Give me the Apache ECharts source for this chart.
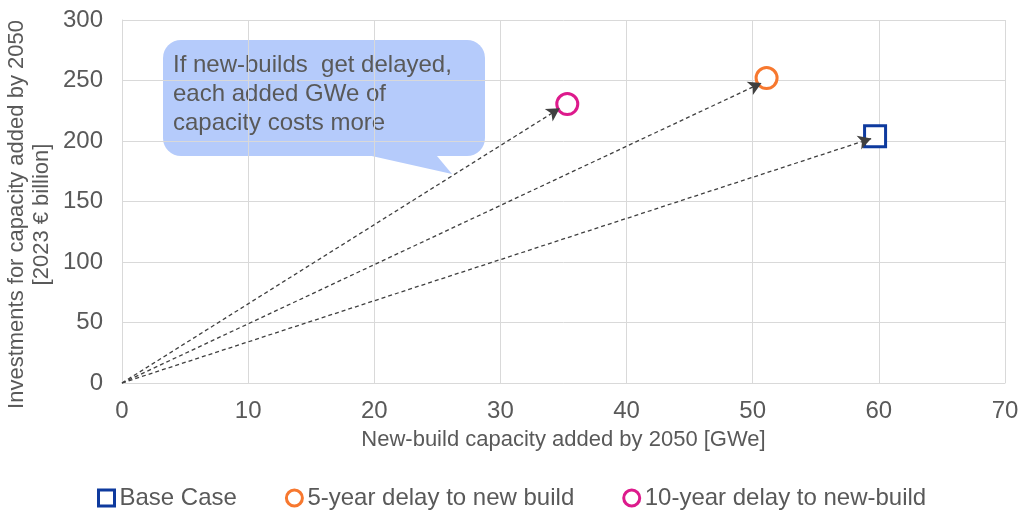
<!DOCTYPE html>
<html>
<head>
<meta charset="utf-8">
<script src="https://cdn.jsdelivr.net/npm/echarts@6/dist/echarts.min.js"></script>
<style>
  html, body { margin: 0; padding: 0; background: #fff; }
  #chart { width: 1024px; height: 511px; }
</style>
</head>
<body>
<div id="chart"></div>
<script>
// scenario data
var categories = ['Base Case', '5-year delay to new build', '10-year delay to new-build'];
var capacity = [59.7, 51.1, 35.3];      // GWe
var investment = [204, 252, 230.5];     // 2023 EUR billion
var arrowTipX = [59.4, 50.7, 34.7];
var arrowTipY = [202, 248, 227];
var symbols = ['rect', 'circle', 'circle'];
var colors = ['#0e3a9e', '#f7782f', '#dd1a8c'];
var xTicks = [0, 10, 20, 30, 40, 50, 60, 70];
var yTicks = [0, 50, 100, 150, 200, 250, 300];

var font = 'Liberation Sans, Arial, sans-serif';
var textColor = '#595959';
var gridColor = '#d9d9d9';

var series = categories.map(function (name, i) {
    return {
        name: name,
        type: 'scatter',
        symbol: symbols[i],
        symbolSize: 21,
        z: 3,
        itemStyle: { color: '#fff', borderColor: colors[i], borderWidth: 3, opacity: 1 },
        data: [[capacity[i], investment[i]]],
        markLine: {
            silent: true,
            symbol: ['none', 'arrow'],
            symbolSize: [11, 13],
            label: { show: false },
            lineStyle: { color: '#404040', type: [4, 3], width: 1.3, opacity: 1 },
            itemStyle: { color: '#000' },
            data: [[{ coord: [0, 0], symbol: 'none' }, { coord: [arrowTipX[i], arrowTipY[i]], itemStyle: { color: '#000' } }]]
        }
    };
});

var chart = echarts.init(document.getElementById('chart'));
chart.setOption({
    animation: false,
    textStyle: { fontFamily: font },
    grid: { left: 122, right: 19, top: 20, bottom: 128, outerBoundsMode: 'none', containLabel: false },
    xAxis: {
        type: 'value',
        min: xTicks[0], max: xTicks[xTicks.length - 1], interval: 10,
        name: 'New-build capacity added by 2050 [GWe]',
        nameLocation: 'middle', nameGap: 46, nameMoveOverlap: false,
        nameTextStyle: { color: textColor, fontSize: 22, fontFamily: font },
        axisLine: { show: true, lineStyle: { color: gridColor } },
        axisTick: { show: false },
        axisLabel: { color: textColor, fontSize: 24, margin: 16, fontFamily: font },
        splitLine: { show: true, lineStyle: { color: gridColor } }
    },
    yAxis: {
        type: 'value',
        min: yTicks[0], max: yTicks[yTicks.length - 1], interval: 50,
        name: 'Investments for capacity added by 2050\n[2023 € billion]',
        nameLocation: 'middle', nameGap: 68, nameMoveOverlap: false,
        nameTextStyle: { color: textColor, fontSize: 22, lineHeight: 25, fontFamily: font, padding: [0, 26, 0, 0] },
        axisLine: { show: true, lineStyle: { color: gridColor } },
        axisTick: { show: false },
        axisLabel: { color: textColor, fontSize: 24, margin: 19, fontFamily: font },
        splitLine: { show: true, lineStyle: { color: gridColor } }
    },
    legend: {
        left: 92, top: 481,
        itemWidth: 16, itemHeight: 16, itemGap: 48,
        itemStyle: { borderWidth: 3, opacity: 1 },
        textStyle: { color: textColor, fontSize: 24, fontFamily: font },
        data: categories
    },
    graphic: [
        {
            type: 'group',
            z: 10,
            children: [
                {
                    type: 'rect',
                    shape: { x: 163, y: 40, width: 322, height: 116, r: 18 },
                    style: { fill: '#b5cbfb' }
                },
                {
                    type: 'polygon',
                    shape: { points: [[345, 150], [452, 174], [432, 150]] },
                    style: { fill: '#b5cbfb' }
                },
                {
                    type: 'text',
                    style: {
                        x: 173, y: 94,
                        text: 'If new-builds  get delayed,\neach added GWe of\ncapacity costs more',
                        fill: textColor,
                        font: '24px ' + font,
                        lineHeight: 29,
                        verticalAlign: 'middle'
                    }
                }
            ]
        }
    ],
    series: series
});
</script>
</body>
</html>
